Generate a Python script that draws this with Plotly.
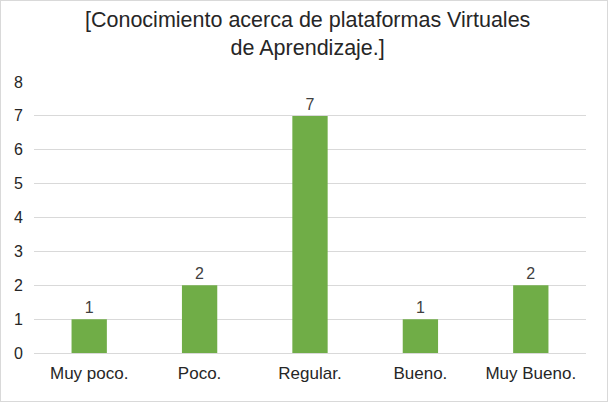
import plotly.graph_objects as go

categories = ["Muy poco.", "Poco.", "Regular.", "Bueno.", "Muy Bueno."]
values = [1, 2, 7, 1, 2]
y_ticks = [0, 1, 2, 3, 4, 5, 6, 7, 8]
title_text = "[Conocimiento acerca de plataformas Virtuales<br>de Aprendizaje.]"

FONT = "Liberation Sans, Arial"
L, R, T, B = 34, 22, 82, 49
PW, PH = 608 - L - R, 402 - T - B

fig = go.Figure(go.Bar(
    x=categories, y=values,
    marker=dict(color="#70AD47", line=dict(width=0)),
    text=[str(v) for v in values], textposition="outside",
    textfont=dict(family=FONT, size=16, color="#404040"),
    cliponaxis=False,
))

fig.update_layout(
    width=608, height=402,
    margin=dict(l=L, r=R, t=T, b=B),
    paper_bgcolor="white", plot_bgcolor="white",
    bargap=0.68,
    showlegend=False,
    font=dict(family=FONT, size=16, color="#262626"),
    xaxis=dict(showgrid=False, showline=False, ticks="", tickfont=dict(size=17),
               ticklabelstandoff=8),
    yaxis=dict(range=[0, 8], tickvals=y_ticks, showgrid=True, gridcolor="#D9D9D9",
               gridwidth=1, zeroline=True, zerolinecolor="#D9D9D9", zerolinewidth=1,
               showline=False, ticks="", tickfont=dict(size=16), ticklabelstandoff=10),
    annotations=[dict(text=title_text, xref="paper", yref="paper",
                      x=(307 - L) / PW, y=1 + (T - 34) / PH,
                      xanchor="center", yanchor="middle", showarrow=False,
                      font=dict(family=FONT, size=21.5, color="#262626"))],
    shapes=[dict(type="rect", xref="paper", yref="paper", x0=-L / PW, x1=1 + R / PW,
                 y0=-B / PH, y1=1 + T / PH, line=dict(color="#D9D9D9", width=2),
                 fillcolor="rgba(0,0,0,0)")],
)

fig.write_html("out.html")
